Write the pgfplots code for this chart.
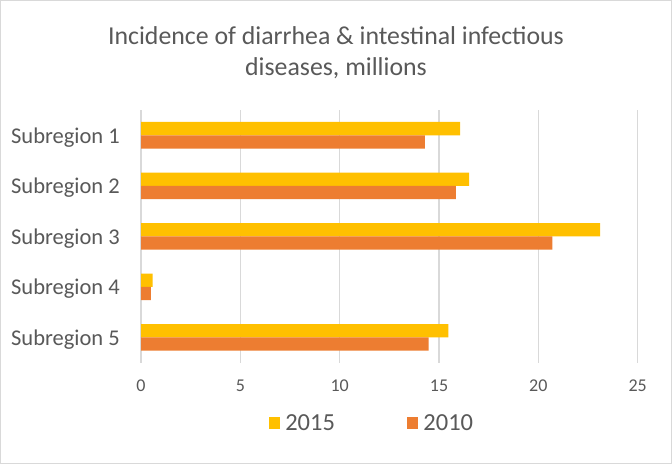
\documentclass[border=0pt]{standalone}
\usepackage{fontspec}
\setmainfont{Carlito}
\usepackage{pgfplots}
\pgfplotsset{compat=1.18}

\definecolor{txt}{HTML}{595959}
\definecolor{gridc}{HTML}{D9D9D9}
\definecolor{c2015}{HTML}{FFC000}
\definecolor{c2010}{HTML}{ED7D31}

\begin{document}
\begin{tikzpicture}
\useasboundingbox (0pt,0pt) rectangle (672pt,464pt);
\fill[white] (0pt,0pt) rectangle (672pt,464pt);
\draw[gridc, line width=1pt] (0.5pt,0.5pt) rectangle (671.5pt,463.5pt);

% title (two lines)
\node[anchor=base, text=txt, font=\fontsize{25.8}{28}\selectfont, inner sep=0pt] at (336pt,419pt)
  {Incidence of diarrhea \& intestinal infectious};
\node[anchor=base, text=txt, font=\fontsize{25.8}{28}\selectfont, inner sep=0pt] at (336pt,388pt)
  {diseases, millions};

\begin{axis}[
    at={(141pt,101.3pt)}, anchor=south west,
    scale only axis,
    width=496.7pt, height=252.7pt,
    xbar, bar width=13.3pt,
    xmin=0, xmax=25,
    ymin=0.5, ymax=5.5,
    xtick={0,5,...,25},
    ytick={1,2,3,4,5},
    yticklabels={Subregion 5,Subregion 4,Subregion 3,Subregion 2,Subregion 1},
    axis line style={draw=none},
    major tick length=0pt,
    xmajorgrids, grid style={gridc, line width=1.2pt},
    /pgf/number format/assume math mode=true,
    xticklabel style={anchor=base, yshift=-29pt, text=txt, font=\fontsize{18}{20}\selectfont},
    yticklabel style={anchor=base east, inner sep=0pt, xshift=-21pt, yshift=-8.1pt, text=txt, font=\fontsize{22.5}{25}\selectfont},
    legend columns=2,
    legend style={at={(0.465,-0.2386)}, anchor=center, draw=none, fill=none,
        font=\fontsize{24.5}{26}\selectfont, text=txt,
        /tikz/every even column/.append style={column sep=70pt}},
    legend image code/.code={\fill[#1] (0pt,-6pt) rectangle (11.5pt,5.5pt);},
]
\addplot[fill=c2015, draw=none, bar shift=6.65pt] coordinates {
    (15.47,1) (0.59,2) (23.11,3) (16.51,4) (16.06,5)
};
\addlegendentry{\hspace{3pt}2015}
\addplot[fill=c2010, draw=none, bar shift=-6.65pt] coordinates {
    (14.48,1) (0.50,2) (20.71,3) (15.85,4) (14.29,5)
};
\addlegendentry{\hspace{3pt}2010}
\end{axis}
\end{tikzpicture}
\end{document}
